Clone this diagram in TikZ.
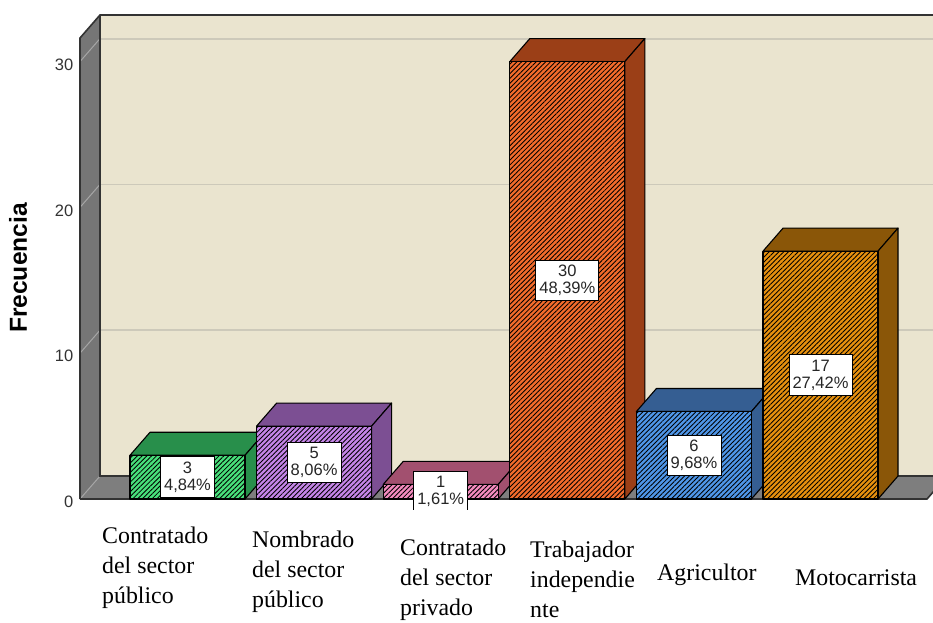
\documentclass[tikz,border=0pt]{standalone}
\usepackage{fontspec}
\setmainfont{Liberation Serif}
\setsansfont{Liberation Sans}
\usepackage{xcolor}
\usepackage{tikz}
\usetikzlibrary{patterns.meta}

\definecolor{wallback}{HTML}{EAE4CF}
\definecolor{wallside}{HTML}{767676}
\definecolor{wallfloor}{HTML}{7E7E7E}
\definecolor{gridback}{HTML}{CDC9BA}
\definecolor{gridside}{HTML}{A6A6A6}
\definecolor{edgedark}{HTML}{333333}
\definecolor{ticktext}{HTML}{333333}
\definecolor{verdeA}{HTML}{48E07B}
\definecolor{verdeB}{HTML}{288F4B}
\definecolor{moradoA}{HTML}{C585E8}
\definecolor{moradoB}{HTML}{7C4F93}
\definecolor{rosaA}{HTML}{F48BBE}
\definecolor{rosaB}{HTML}{A2506F}
\definecolor{naranjaA}{HTML}{F36B2B}
\definecolor{naranjaB}{HTML}{9B3F17}
\definecolor{azulA}{HTML}{4F96E8}
\definecolor{azulB}{HTML}{355E92}
\definecolor{ocreA}{HTML}{E6900E}
\definecolor{ocreB}{HTML}{8A5608}

\begin{document}
\begin{tikzpicture}[x=1pt, y=-1pt,
    barside/.style={draw=black, line width=1.1pt, line join=round},
    valbox/.style={draw=black, fill=white, line width=0.8pt, text=black!85,
      font=\sffamily\fontsize{16.5}{17}\selectfont, align=center,
      inner xsep=3.6pt, inner ysep=5pt},
    catlabel/.style={anchor=north west, inner sep=0pt, align=left,
      font=\fontsize{23.85}{30}\selectfont},
    ticklabel/.style={anchor=east, inner sep=0pt, text=ticktext,
      font=\sffamily\fontsize{16.5}{17}\selectfont}]
  \useasboundingbox (0,0) rectangle (933,622);
  \clip (0,0) rectangle (933,622);

  \fill[wallback] (100,15) rectangle (947,476);
  \fill[wallside] (80,38) -- (100,15) -- (100,476) -- (80,499) -- cycle;
  \fill[wallfloor] (80,499) -- (100,476) -- (947,476) -- (927,499) -- cycle;
  \foreach \k in {1,2,3}
    \draw[gridback, line width=1.8pt] (100,{476-145.8*\k}) -- (947,{476-145.8*\k});
  \foreach \k in {0,1,2,3}
    \draw[gridside, line width=1pt] (80,{499-145.8*\k}) -- (100,{476-145.8*\k});
  \draw[edgedark, line width=1.6pt] (80,499) -- (80,38) -- (100,15) -- (947,15);
  \draw[edgedark, line width=1.3pt] (100,15) -- (100,476) -- (947,476);
  \draw[edgedark, line width=1.6pt] (80,499) -- (927,499) -- (947,476);

  \foreach \k in {0,1,2,3}
    \node[ticklabel] (t\k) at (73.5,{499-145.8*\k+3}) {\the\numexpr\k*10\relax};
  \node[rotate=90, inner sep=0pt, font=\sffamily\bfseries\fontsize{24.6}{26}\selectfont]
    (ylab) at (18,268) {Frecuencia};

  \foreach \bx/\bv/\fc/\sc in {130/3/verdeA/verdeB, 256.6/5/moradoA/moradoB,
      383.2/1/rosaA/rosaB, 509.8/30/naranjaA/naranjaB,
      636.4/6/azulA/azulB, 763/17/ocreA/ocreB}{
    \pgfmathsetmacro{\bt}{499-14.58*\bv}
    \filldraw[barside, fill=\sc] (\bx,\bt) -- ++(20,-23) -- ++(115,0) -- ++(-20,23) -- cycle;
    \filldraw[barside, fill=\sc] (\bx+115,\bt) -- ++(20,-23) -- (\bx+135,476) -- (\bx+115,499) -- cycle;
    \draw[barside, preaction={fill=\fc},
      pattern={Lines[angle=45, distance=3.4pt, line width=0.85pt]}, pattern color=black]
      (\bx,\bt) rectangle (\bx+115,499);
  }

  \begin{scope}
    \clip (0,0) rectangle (933,509);
    \foreach \bx/\bv/\pc [count=\i] in {130/3/{4,84\%}, 256.6/5/{8,06\%},
        383.2/1/{1,61\%}, 509.8/30/{48,39\%}, 636.4/6/{9,68\%}, 763/17/{27,42\%}}
      \node[valbox] (v\i) at (\bx+57.5,{(499-14.58*\bv+499)/2}) {\bv\\\pc};
  \end{scope}

  \node[catlabel] (c1) at (102,526.7) {Contratado\\del sector\\público};
  \node[catlabel] (c2) at (252,530.7) {Nombrado\\del sector\\público};
  \node[catlabel] (c3) at (400,538.7) {Contratado\\del sector\\privado};
  \node[catlabel] (c4) at (530,541) {Trabajador\\independie\\nte};
  \node[catlabel] (c5) at (657,563.7) {Agricultor};
  \node[catlabel] (c6) at (795,569.7) {Motocarrista};
\end{tikzpicture}
\end{document}
